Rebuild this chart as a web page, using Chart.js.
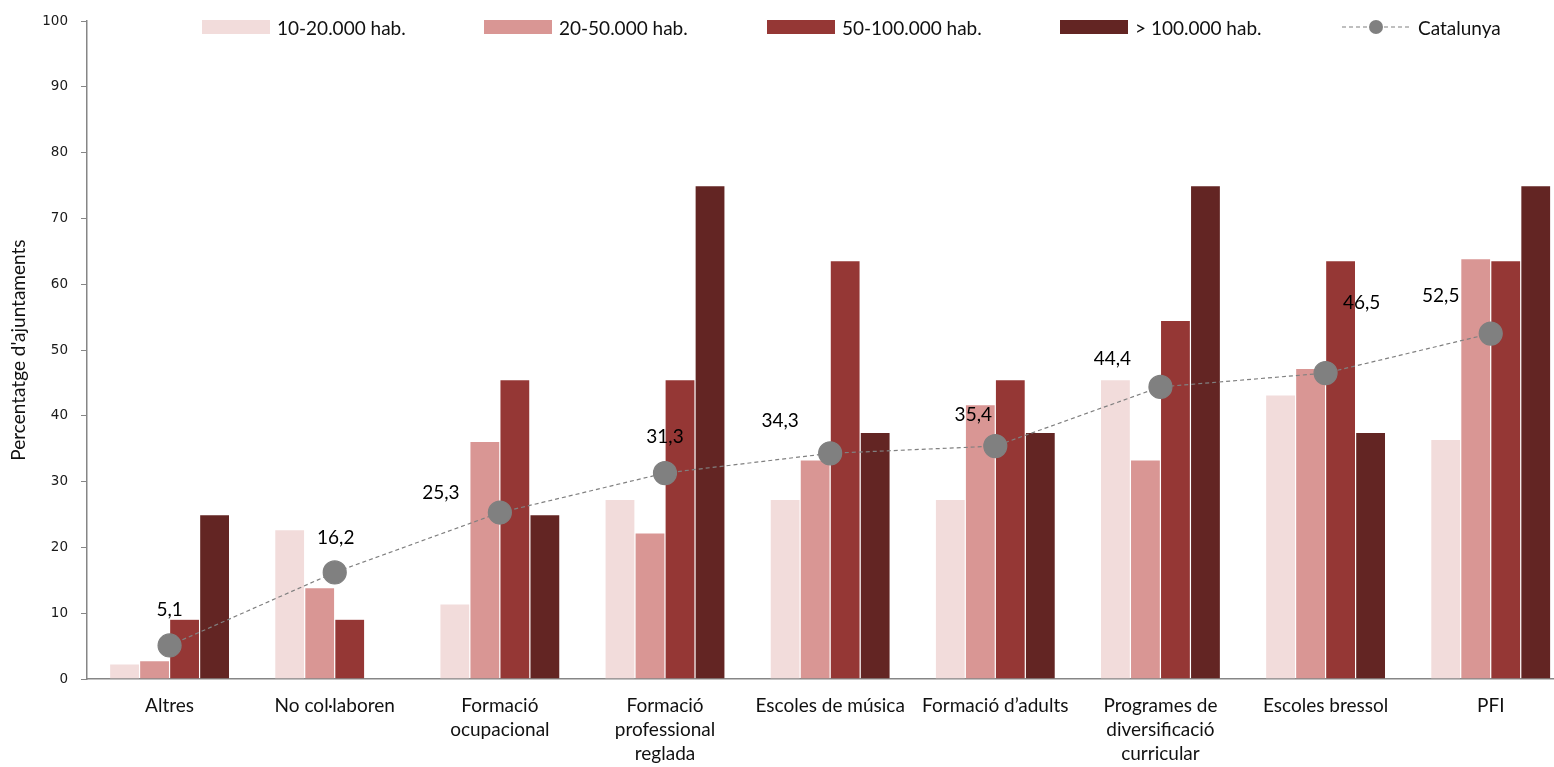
<!DOCTYPE html>
<html>
<head>
<meta charset="utf-8">
<script src="https://cdn.jsdelivr.net/npm/chart.js@4.4.1/dist/chart.umd.min.js"></script>
<style>
	html, body { margin: 0; padding: 0; background: #fff; overflow: hidden; }
	.wrap { position: relative; width: 1586px; height: 767px; }
	.legend { position: absolute; top: 0; left: 0; font-family: Lato, "Noto Sans", sans-serif; font-size: 19px; color: #111; }
	.legend .item { position: absolute; top: 15px; height: 24px; display: flex; align-items: center; white-space: nowrap; }
	.legend .sw { display: inline-block; width: 68px; height: 14px; margin-right: 7px; }
</style>
</head>
<body>
<div class="wrap">
	<canvas id="chart" width="1586" height="767"></canvas>
	<div class="legend" id="legend"></div>
</div>
<script>
// Data
const categories = [
	"Altres",
	"No col·laboren",
	["Formació", "ocupacional"],
	["Formació", "professional", "reglada"],
	"Escoles de música",
	"Formació d’adults",
	["Programes de", "diversificació", "curricular"],
	"Escoles bressol",
	"PFI",
];
const hab10_20 = [2.3, 22.7, 11.4, 27.3, 27.3, 27.3, 45.5, 43.2, 36.4];
const hab20_50 = [2.8, 13.9, 36.1, 22.2, 33.3, 41.7, 33.3, 47.2, 63.9];
const hab50_100 = [9.1, 9.1, 45.5, 45.5, 63.6, 45.5, 54.5, 63.6, 63.6];
const hab100 = [25.0, 0, 25.0, 75.0, 37.5, 37.5, 75.0, 37.5, 75.0];
const catalunya = [5.1, 16.2, 25.3, 31.3, 34.3, 35.4, 44.4, 46.5, 52.5];
const yTicks = [0, 10, 20, 30, 40, 50, 60, 70, 80, 90, 100];

const colors = ["#F2DCDB", "#D99694", "#953735", "#632523"];
const names = ["10-20.000 hab.", "20-50.000 hab.", "50-100.000 hab.", "> 100.000 hab."];

// label offsets for the Catalunya values (dx, dy from point)
const labelOffsets = [
	[0, -36], [1, -35], [-59, -20], [0, -36], [-50, -32],
	[-22, -31], [-48, -28], [36, -70], [-50, -38],
];

const pointLabels = {
	id: "pointLabels",
	afterDatasetsDraw(chart) {
		const ctx = chart.ctx;
		const meta = chart.getDatasetMeta(4);
		ctx.save();
		ctx.font = "19px Lato, 'Noto Sans', sans-serif";
		ctx.fillStyle = "#000";
		ctx.textAlign = "center";
		ctx.textBaseline = "middle";
		meta.data.forEach((pt, i) => {
			const txt = catalunya[i].toFixed(1).replace(".", ",");
			ctx.fillText(txt, pt.x + labelOffsets[i][0], pt.y + labelOffsets[i][1]);
		});
		ctx.restore();
	},
};

const barSets = [hab10_20, hab20_50, hab50_100, hab100].map((d, i) => ({
	type: "bar",
	label: names[i],
	data: d,
	backgroundColor: colors[i],
	borderColor: "rgba(255,255,255,0.35)",
	borderWidth: 0.6,
	barPercentage: 1,
	categoryPercentage: 0.727,
	order: 1,
}));

const chart = new Chart(document.getElementById("chart"), {
	type: "bar",
	data: {
		labels: categories,
		datasets: [
			...barSets,
			{
				type: "line",
				label: "Catalunya",
				data: catalunya,
				borderColor: "#808080",
				borderWidth: 1.2,
				borderDash: [4, 3],
				pointBackgroundColor: "#808080",
				pointBorderColor: "#808080",
				pointRadius: 11.5,
				pointHoverRadius: 11.5,
				fill: false,
				tension: 0,
				order: 0,
			},
		],
	},
	options: {
		responsive: false,
		animation: false,
		layout: { padding: { top: 20, left: 0, right: 0, bottom: 0 } },
		plugins: {
			legend: { display: false },
			tooltip: { enabled: false },
		},
		scales: {
			x: {
				grid: { display: false },
				border: { display: true, color: "#868686", width: 1.5 },
				ticks: {
					color: "#111",
					padding: 7,
					maxRotation: 0,
					autoSkip: false,
					font: { family: "Lato, 'Noto Sans', sans-serif", size: 19, lineHeight: 1.263 },
				},
				afterFit(scale) { scale.height = 88; },
			},
			y: {
				min: 0,
				max: 100,
				afterBuildTicks(scale) { scale.ticks = yTicks.map((v) => ({ value: v })); },
				grid: { display: true, drawOnChartArea: false, drawTicks: true, tickLength: 6, color: "#868686" },
				border: { display: true, color: "#868686", width: 1.5 },
				ticks: {
					color: "#1a1a1a",
					padding: 13,
					font: { family: "'DejaVu Sans', sans-serif", size: 13.5 },
				},
				title: {
					display: true,
					text: "Percentatge d'ajuntaments",
					color: "#111",
					padding: { top: 7, bottom: 0 },
					font: { family: "Lato, 'Noto Sans', sans-serif", size: 19 },
				},
				afterFit(scale) { scale.width = 87; },
			},
		},
	},
	plugins: [pointLabels],
});

// Legend
const legend = document.getElementById("legend");
const legendLeft = [202, 484, 767, 1060];
names.forEach((n, i) => {
	const it = document.createElement("div");
	it.className = "item";
	it.style.left = legendLeft[i] + "px";
	it.innerHTML = '<span class="sw" style="background:' + colors[i] + '"></span>' + n;
	legend.appendChild(it);
});
const cat = document.createElement("div");
cat.className = "item";
cat.style.left = "1342px";
cat.innerHTML =
	'<svg width="70" height="16" style="margin-right:6px"><line x1="0" y1="8" x2="70" y2="8" stroke="#808080" stroke-width="1.2" stroke-dasharray="4,3"/><circle cx="34" cy="8" r="7" fill="#808080"/></svg>Catalunya';
legend.appendChild(cat);
</script>
</body>
</html>
